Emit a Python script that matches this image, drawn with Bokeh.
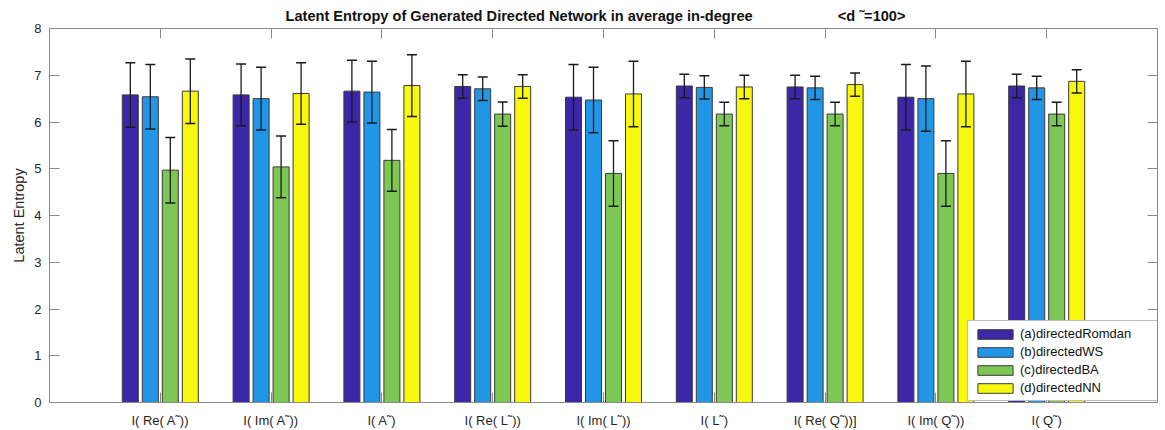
from bokeh.plotting import figure
from bokeh.models import (ColumnDataSource, Range1d, FixedTicker, LinearAxis,
                          Whisker, TeeHead, Legend, LegendItem)
from bokeh.embed import file_html
from bokeh.resources import INLINE
import numpy as np

# ---- data ----
categories = ["I( Re( A\u02dc))", "I( Im( A\u02dc))", "I( A\u02dc)", "I( Re( L\u02dc))",
              "I( Im( L\u02dc))", "I( L\u02dc)", "I( Re( Q\u02dc))]", "I( Im( Q\u02dc))", "I( Q\u02dc)"]

series_names = ["(a)directedRomdan", "(b)directedWS", "(c)directedBA", "(d)directedNN"]

romdan = [6.58, 6.58, 6.66, 6.76, 6.53, 6.77, 6.75, 6.53, 6.77]
ws     = [6.54, 6.50, 6.64, 6.71, 6.47, 6.74, 6.73, 6.50, 6.73]
ba     = [4.97, 5.04, 5.18, 6.17, 4.90, 6.17, 6.17, 4.90, 6.17]
nn     = [6.66, 6.61, 6.78, 6.76, 6.60, 6.75, 6.80, 6.60, 6.87]

romdan_err = [0.69, 0.66, 0.66, 0.25, 0.70, 0.25, 0.25, 0.70, 0.25]
ws_err     = [0.69, 0.67, 0.66, 0.25, 0.70, 0.25, 0.25, 0.70, 0.25]
ba_err     = [0.70, 0.66, 0.66, 0.26, 0.70, 0.25, 0.25, 0.70, 0.25]
nn_err     = [0.69, 0.66, 0.66, 0.25, 0.70, 0.25, 0.25, 0.70, 0.25]

y_ticks = [0, 1, 2, 3, 4, 5, 6, 7, 8]

colors = ["#3E26A8", "#2196E6", "#7DC854", "#F8F80E"]

# ---- figure ----
TEXT = "#262626"
AXIS = "#8a8a8a"
FONT = "Liberation Sans"

title_text = ("Latent Entropy of Generated Directed Network in average in-degree"
              + "\u00a0" * 21 + "<d \u02dc=100>")

p = figure(width=1165, height=430, output_backend="svg", toolbar_location=None,
           x_range=Range1d(0, 10), y_range=Range1d(0, 8),
           title=title_text,
           min_border_left=49, min_border_right=8, min_border_top=28, min_border_bottom=28)

p.title.text_font = FONT
p.title.text_font_size = "14.6px"
p.title.text_font_style = "bold"
p.title.text_color = "#111111"
p.title.align = "left"
p.title.offset = 236

p.grid.visible = False
p.outline_line_color = AXIS
p.background_fill_color = "white"

x_idx = np.arange(1, len(categories) + 1)
pitch = 0.1805
bar_w = 0.1444
all_vals = [romdan, ws, ba, nn]
all_errs = [romdan_err, ws_err, ba_err, nn_err]

items = []
for k, (vals, errs, col, name) in enumerate(zip(all_vals, all_errs, colors, series_names)):
    off = (k - 1.5) * pitch
    v = np.array(vals)
    e = np.array(errs)
    src = ColumnDataSource(dict(x=x_idx + off, top=v, lo=v - e, hi=v + e))
    r = p.vbar(x="x", top="top", width=bar_w, source=src, fill_color=col,
               line_color="#3a3a3a", line_width=1)
    items.append(LegendItem(label=name, renderers=[r]))
    wk = Whisker(base="x", upper="hi", lower="lo", source=src, level="annotation",
                 line_color="#1a1a1a", line_width=1.3,
                 upper_head=TeeHead(size=10, line_color="#1a1a1a", line_width=1.5),
                 lower_head=TeeHead(size=10, line_color="#1a1a1a", line_width=1.5))
    p.add_layout(wk)

# ---- axes ----
xa = p.xaxis[0]
xa.ticker = FixedTicker(ticks=list(x_idx))
xa.major_label_overrides = {int(i): c for i, c in zip(x_idx, categories)}
xa.major_label_text_font = FONT
xa.major_label_text_font_size = "13px"
xa.major_label_text_color = TEXT
xa.major_label_standoff = 10
xa.minor_tick_line_color = None
xa.major_tick_in = 10
xa.major_tick_out = 0
xa.major_tick_line_color = AXIS
xa.axis_line_color = AXIS

ya = p.yaxis[0]
ya.ticker = FixedTicker(ticks=y_ticks)
ya.axis_label = "Latent Entropy"
ya.axis_label_text_font = FONT
ya.axis_label_text_font_size = "14.5px"
ya.axis_label_text_font_style = "normal"
ya.axis_label_text_color = TEXT
ya.axis_label_standoff = 4
ya.major_label_text_font = FONT
ya.major_label_text_font_size = "13px"
ya.major_label_text_color = TEXT
ya.major_label_standoff = 8
ya.minor_tick_line_color = None
ya.major_tick_in = 10
ya.major_tick_out = 0
ya.major_tick_line_color = AXIS
ya.axis_line_color = AXIS

# tick marks only (no labels) on the top and right edges of the box
top_axis = LinearAxis(ticker=FixedTicker(ticks=list(x_idx)), major_label_text_color=None,
                      major_label_text_font_size="1px",
                      major_label_standoff=0, major_tick_in=10, major_tick_out=0,
                      major_tick_line_color=AXIS, minor_tick_line_color=None,
                      axis_line_color=AXIS)
p.add_layout(top_axis, "above")

right_axis = LinearAxis(ticker=FixedTicker(ticks=y_ticks), major_label_text_color=None,
                        major_label_text_font_size="1px",
                        major_label_standoff=0, major_tick_in=10, major_tick_out=0,
                        major_tick_line_color=AXIS, minor_tick_line_color=None,
                        axis_line_color=AXIS)
p.add_layout(right_axis, "right")

# ---- legend ----
legend = Legend(items=items, location=(918, 1), orientation="vertical",
                glyph_width=44, glyph_height=12, label_height=12, label_width=133,
                label_standoff=3, spacing=3, padding=5, margin=0,
                label_text_font=FONT, label_text_font_size="13px",
                label_text_color="#111111",
                border_line_color="#7a7a7a", border_line_width=1,
                background_fill_color="white", background_fill_alpha=1)
p.add_layout(legend, "center")

open("out.html", "w").write(file_html(p, INLINE))
